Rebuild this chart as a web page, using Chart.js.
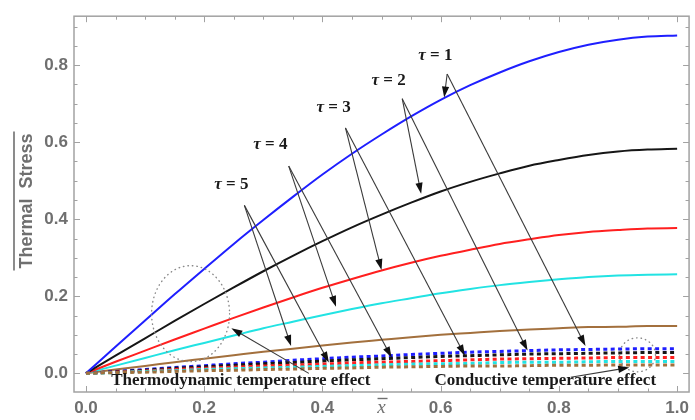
<!DOCTYPE html>
<html>
<head>
<meta charset="utf-8">
<script src="https://cdn.jsdelivr.net/npm/chart.js@4.4.1/dist/chart.umd.min.js"></script>
<style>
  body { margin: 0; background: #fff; }
  canvas { display: block; }
</style>
</head>
<body>
<canvas id="stressChart" width="695" height="420"></canvas>
<script>
// Sample points along x-bar
const xValues = [0, 0.05, 0.1, 0.15, 0.2, 0.25, 0.3, 0.35, 0.4, 0.45, 0.5,
    0.55, 0.6, 0.65, 0.7, 0.75, 0.8, 0.85, 0.9, 0.95, 1.0];

// Thermodynamic temperature effect (solid curves), tau = 1..5
const thermoTau1 = [0, 0.069, 0.137, 0.205, 0.271, 0.336, 0.398, 0.458, 0.516, 0.570, 0.620,
    0.667, 0.710, 0.748, 0.781, 0.810, 0.834, 0.853, 0.866, 0.874, 0.877];
const thermoTau2 = [0, 0.046, 0.091, 0.136, 0.180, 0.223, 0.265, 0.305, 0.343, 0.379, 0.412,
    0.443, 0.472, 0.497, 0.519, 0.539, 0.554, 0.567, 0.576, 0.581, 0.583];
const thermoTau3 = [0, 0.030, 0.059, 0.088, 0.116, 0.144, 0.171, 0.197, 0.222, 0.245, 0.267,
    0.287, 0.305, 0.321, 0.336, 0.348, 0.359, 0.367, 0.372, 0.376, 0.377];
const thermoTau4 = [0, 0.020, 0.040, 0.060, 0.079, 0.098, 0.117, 0.134, 0.151, 0.167, 0.182,
    0.195, 0.208, 0.219, 0.229, 0.237, 0.244, 0.250, 0.254, 0.256, 0.257];
const thermoTau5 = [0, 0.010, 0.019, 0.029, 0.038, 0.047, 0.056, 0.064, 0.072, 0.080, 0.087,
    0.094, 0.100, 0.105, 0.110, 0.114, 0.117, 0.120, 0.121, 0.123, 0.123];

// Conductive temperature effect (dashed curves), tau = 1..5
const conductTau1 = [0, 0.005, 0.010, 0.015, 0.020, 0.025, 0.029, 0.034, 0.038, 0.042, 0.045,
    0.049, 0.052, 0.055, 0.057, 0.059, 0.061, 0.062, 0.063, 0.064, 0.064];
const conductTau2 = [0, 0.004, 0.008, 0.013, 0.017, 0.021, 0.025, 0.028, 0.032, 0.035, 0.038,
    0.041, 0.044, 0.046, 0.048, 0.050, 0.051, 0.052, 0.053, 0.054, 0.054];
const conductTau3 = [0, 0.003, 0.006, 0.010, 0.013, 0.016, 0.019, 0.021, 0.024, 0.027, 0.029,
    0.031, 0.033, 0.035, 0.037, 0.038, 0.039, 0.040, 0.041, 0.041, 0.041];
const conductTau4 = [0, 0.002, 0.005, 0.007, 0.010, 0.012, 0.014, 0.016, 0.018, 0.020, 0.022,
    0.024, 0.025, 0.026, 0.028, 0.029, 0.029, 0.030, 0.031, 0.031, 0.031];
const conductTau5 = [0, 0.002, 0.003, 0.005, 0.007, 0.008, 0.010, 0.011, 0.013, 0.014, 0.016,
    0.017, 0.018, 0.019, 0.019, 0.020, 0.021, 0.021, 0.022, 0.022, 0.022];

// Tick values
const xTickValues = [0, 0.05, 0.1, 0.15, 0.2, 0.25, 0.3, 0.35, 0.4, 0.45, 0.5,
    0.55, 0.6, 0.65, 0.7, 0.75, 0.8, 0.85, 0.9, 0.95, 1.0];
const yTickValues = [0, 0.05, 0.1, 0.15, 0.2, 0.25, 0.3, 0.35, 0.4, 0.45, 0.5,
    0.55, 0.6, 0.65, 0.7, 0.75, 0.8, 0.85, 0.9];

const tauLabels = ['\u03C4 = 1', '\u03C4 = 2', '\u03C4 = 3', '\u03C4 = 4', '\u03C4 = 5'];
const seriesColors = ['#1f1fff', '#161616', '#ff1f1f', '#22e3e3', '#a3703d'];

const labelGray = '#6f6f6f';
const frameGray = '#a2a2a2';

// Annotation placement, in data units (x-bar, stress)
const tauTextPos = [[0.591, 0.825], [0.512, 0.759], [0.419, 0.690], [0.312, 0.594], [0.246, 0.489]];
const tauArrowFrom = [[0.611, 0.777], [0.535, 0.713], [0.439, 0.637], [0.343, 0.538], [0.268, 0.436]];
const tauArrowToSolid = [[0.606, 0.716], [0.567, 0.466], [0.500, 0.268], [0.423, 0.173], [0.347, 0.071]];
const tauArrowToDashed = [[0.845, 0.071], [0.747, 0.059], [0.641, 0.046], [0.517, 0.041], [0.411, 0.028]];

function isMajor(v) {
    return Math.abs(v * 5 - Math.round(v * 5)) < 1e-6;
}

function toPoints(ys) {
    return xValues.map((x, i) => ({ x: x, y: ys[i] }));
}

function drawArrow(ctx, x1, y1, x2, y2) {
    const ang = Math.atan2(y2 - y1, x2 - x1);
    const len = 11, half = 3.6;
    ctx.strokeStyle = '#3a3a3a';
    ctx.lineWidth = 1.1;
    ctx.beginPath();
    ctx.moveTo(x1, y1);
    ctx.lineTo(x2 - Math.cos(ang) * len * 0.6, y2 - Math.sin(ang) * len * 0.6);
    ctx.stroke();
    ctx.fillStyle = '#111';
    ctx.beginPath();
    ctx.moveTo(x2, y2);
    ctx.lineTo(x2 - Math.cos(ang) * len - Math.sin(ang) * half, y2 - Math.sin(ang) * len + Math.cos(ang) * half);
    ctx.lineTo(x2 - Math.cos(ang) * len + Math.sin(ang) * half, y2 - Math.sin(ang) * len - Math.cos(ang) * half);
    ctx.closePath();
    ctx.fill();
}

function drawDottedEllipse(ctx, cx, cy, rx, ry) {
    ctx.save();
    ctx.strokeStyle = '#8a8a8a';
    ctx.lineWidth = 1.4;
    ctx.lineCap = 'round';
    ctx.setLineDash([0.5, 4]);
    ctx.beginPath();
    ctx.ellipse(cx, cy, rx, ry, 0, 0, Math.PI * 2);
    ctx.stroke();
    ctx.restore();
}

const decorPlugin = {
    id: 'decor',
    afterDraw(chart) {
        const ctx = chart.ctx;
        const area = chart.chartArea;
        const xs = chart.scales.x;
        const ys = chart.scales.y;
        const px = v => xs.getPixelForValue(v);
        const py = v => ys.getPixelForValue(v);

        ctx.save();

        // frame
        ctx.strokeStyle = frameGray;
        ctx.lineWidth = 1.5;
        ctx.strokeRect(area.left, area.top, area.right - area.left, area.bottom - area.top);

        // inward ticks on all four sides
        ctx.lineWidth = 1;
        ctx.beginPath();
        xTickValues.forEach(v => {
            const x = Math.round(px(v)) + 0.5;
            const l = isMajor(v) ? 6 : 3.5;
            ctx.moveTo(x, area.bottom); ctx.lineTo(x, area.bottom - l);
            ctx.moveTo(x, area.top); ctx.lineTo(x, area.top + l);
        });
        yTickValues.forEach(v => {
            const y = Math.round(py(v)) + 0.5;
            const l = isMajor(v) ? 6 : 3.5;
            ctx.moveTo(area.left, y); ctx.lineTo(area.left + l, y);
            ctx.moveTo(area.right, y); ctx.lineTo(area.right - l, y);
        });
        ctx.stroke();

        // y axis title with overline
        ctx.save();
        ctx.translate(27, 201);
        ctx.rotate(-Math.PI / 2);
        ctx.font = 'bold 18px "Liberation Sans", Arial, sans-serif';
        ctx.fillStyle = labelGray;
        ctx.textAlign = 'center';
        ctx.textBaseline = 'middle';
        const title = 'Thermal  Stress';
        ctx.fillText(title, 0, 0);
        const tw = ctx.measureText(title).width;
        ctx.strokeStyle = labelGray;
        ctx.lineWidth = 1.6;
        ctx.beginPath();
        ctx.moveTo(-tw / 2 - 2, -13);
        ctx.lineTo(tw / 2 + 2, -13);
        ctx.stroke();
        ctx.restore();

        // x axis title: x-bar
        const xt = px(0.5);
        ctx.font = 'italic 19px "Liberation Serif", "Times New Roman", serif';
        ctx.fillStyle = labelGray;
        ctx.textAlign = 'center';
        ctx.textBaseline = 'alphabetic';
        ctx.fillText('x', xt, 413);
        ctx.strokeStyle = labelGray;
        ctx.lineWidth = 1.4;
        ctx.beginPath();
        ctx.moveTo(xt - 4, 398.5);
        ctx.lineTo(xt + 6, 398.5);
        ctx.stroke();

        ctx.restore();
    },
    afterDatasetsDraw(chart) {
        const ctx = chart.ctx;
        const xs = chart.scales.x;
        const ys = chart.scales.y;
        const px = v => xs.getPixelForValue(v);
        const py = v => ys.getPixelForValue(v);

        ctx.save();

        // tau annotations with arrows to solid and dashed curves
        tauLabels.forEach((label, i) => {
            const [fx, fy] = tauArrowFrom[i];
            drawArrow(ctx, px(fx), py(fy), px(tauArrowToSolid[i][0]), py(tauArrowToSolid[i][1]));
            drawArrow(ctx, px(fx), py(fy), px(tauArrowToDashed[i][0]), py(tauArrowToDashed[i][1]));

            const [tx, ty] = tauTextPos[i];
            ctx.fillStyle = '#1a1a1a';
            ctx.textBaseline = 'middle';
            ctx.textAlign = 'left';
            ctx.font = 'bold italic 17px "Liberation Serif", "Times New Roman", serif';
            const tauW = ctx.measureText('\u03C4').width;
            ctx.font = 'bold 17px "Liberation Serif", "Times New Roman", serif';
            const rest = label.slice(1);
            const restW = ctx.measureText(rest).width;
            const startX = px(tx) - (tauW + restW) / 2;
            ctx.font = 'bold italic 17px "Liberation Serif", "Times New Roman", serif';
            ctx.fillText('\u03C4', startX, py(ty));
            ctx.font = 'bold 17px "Liberation Serif", "Times New Roman", serif';
            ctx.fillText(rest, startX + tauW, py(ty));
        });

        // dotted circles
        drawDottedEllipse(ctx, px(0.177), py(0.155), 39, 48);
        drawDottedEllipse(ctx, px(0.933), py(0.048), 18, 17);

        // effect labels and their arrows
        drawArrow(ctx, px(0.377), py(0.0), px(0.246), py(0.117));
        drawArrow(ctx, px(0.820), py(-0.010), px(0.919), py(0.015));

        ctx.fillStyle = '#1a1a1a';
        ctx.font = 'bold 17px "Liberation Serif", "Times New Roman", serif';
        ctx.textAlign = 'center';
        ctx.textBaseline = 'middle';
        ctx.fillText('Thermodynamic temperature effect', px(0.262), py(-0.020));
        ctx.fillText('Conductive temperature effect', px(0.777), py(-0.020));

        ctx.restore();
    }
};

const thermoSeries = [thermoTau1, thermoTau2, thermoTau3, thermoTau4, thermoTau5];
const conductSeries = [conductTau1, conductTau2, conductTau3, conductTau4, conductTau5];

const datasets = [];
conductSeries.forEach((ys, i) => {
    datasets.push({
        label: 'Conductive ' + tauLabels[i],
        data: toPoints(ys),
        borderColor: seriesColors[i],
        borderWidth: 3,
        borderDash: [4, 3.4],
        pointRadius: 0,
        cubicInterpolationMode: 'monotone',
        order: 5 - i
    });
});
thermoSeries.forEach((ys, i) => {
    datasets.push({
        label: 'Thermodynamic ' + tauLabels[i],
        data: toPoints(ys),
        borderColor: seriesColors[i],
        borderWidth: 2,
        pointRadius: 0,
        cubicInterpolationMode: 'monotone',
        order: 10 + i
    });
});

const tickFont = { family: '"Liberation Sans", Arial, sans-serif', size: 17, weight: 'bold' };

new Chart(document.getElementById('stressChart').getContext('2d'), {
    type: 'line',
    data: { datasets: datasets },
    options: {
        responsive: false,
        animation: false,
        layout: { padding: { left: 0, top: 9, right: 3, bottom: 0 } },
        plugins: {
            legend: { display: false },
            tooltip: { enabled: false }
        },
        scales: {
            x: {
                type: 'linear',
                min: -0.0202,
                max: 1.0202,
                afterBuildTicks: scale => { scale.ticks = xTickValues.map(v => ({ value: v })); },
                afterFit: scale => { scale.height = 28; },
                grid: { display: false, drawTicks: false },
                border: { display: false },
                ticks: {
                    autoSkip: false,
                    maxRotation: 0,
                    padding: 6,
                    color: labelGray,
                    font: tickFont,
                    callback: v => isMajor(v) ? v.toFixed(1) : ''
                }
            },
            y: {
                type: 'linear',
                min: -0.0484,
                max: 0.927,
                afterBuildTicks: scale => { scale.ticks = yTickValues.map(v => ({ value: v })); },
                afterFit: scale => { scale.width = 74; },
                grid: { display: false, drawTicks: false },
                border: { display: false },
                ticks: {
                    autoSkip: false,
                    padding: 6,
                    color: labelGray,
                    font: tickFont,
                    callback: v => (isMajor(v) && v < 0.85) ? v.toFixed(1) : ''
                }
            }
        }
    },
    plugins: [decorPlugin]
});
</script>
</body>
</html>
